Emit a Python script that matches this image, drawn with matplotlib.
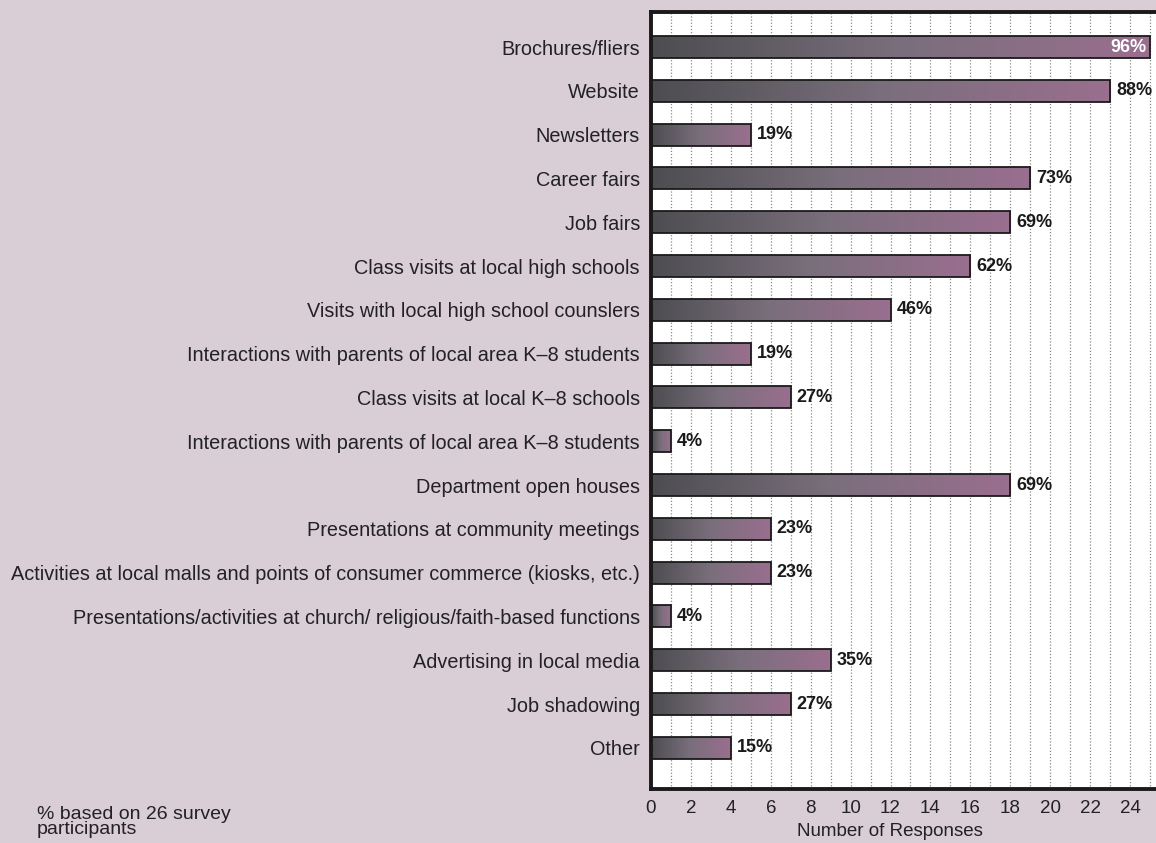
import numpy as np
import matplotlib.pyplot as plt
from matplotlib.colors import LinearSegmentedColormap

plt.rcParams['font.family'] = ['Liberation Sans', 'DejaVu Sans']

categories = [
    "Brochures/fliers",
    "Website",
    "Newsletters",
    "Career fairs",
    "Job fairs",
    "Class visits at local high schools",
    "Visits with local high school counslers",
    "Interactions with parents of local area K\u20138 students",
    "Class visits at local K\u20138 schools",
    "Interactions with parents of local area K\u20138 students",
    "Department open houses",
    "Presentations at community meetings",
    "Activities at local malls and points of consumer commerce (kiosks, etc.)",
    "Presentations/activities at church/ religious/faith-based functions",
    "Advertising in local media",
    "Job shadowing",
    "Other",
]
responses = [25, 23, 5, 19, 18, 16, 12, 5, 7, 1, 18, 6, 6, 1, 9, 7, 4]
percent_labels = ["96%", "88%", "19%", "73%", "69%", "62%", "46%", "19%", "27%",
                  "4%", "69%", "23%", "23%", "4%", "35%", "27%", "15%"]
x_ticks = list(range(0, 26, 2))

bg = "#d9cdd6"
grad = LinearSegmentedColormap.from_list("bar", ["#4d4d51", "#7a6f7c", "#9a6e8f"])

fig = plt.figure(figsize=(11.56, 8.43), dpi=100, facecolor=bg)
ax = fig.add_axes([651 / 1156, 1 - 789 / 843, 26 * 19.96 / 1156, (789 - 12) / 843])
ax.set_facecolor("white")

bar_h = 0.5
ramp = np.linspace(0, 1, 256).reshape(1, -1)
for i, v in enumerate(responses):
    # gradient fill clipped to the bar, outline drawn on top
    ax.imshow(ramp, cmap=grad, aspect="auto", interpolation="bilinear",
              extent=[0, v, i + bar_h / 2, i - bar_h / 2], zorder=2)
    ax.barh(i, v, height=bar_h, facecolor="none", edgecolor="#1a1a1a",
            linewidth=1.3, zorder=3)
    if i == 0:
        ax.text(v - 0.2, i, percent_labels[i], ha="right", va="center",
                color="white", fontsize=13, fontweight="bold", zorder=4)
    else:
        ax.text(v + 0.3, i, percent_labels[i], ha="left", va="center",
                color="#1a1a1a", fontsize=13, fontweight="bold", zorder=4)

ax.set_xlim(0, 26)
ax.set_ylim(len(responses) - 1 + 0.94, -0.8)

ax.set_xticks(range(0, 27))
ax.set_xticklabels([str(t) if t in x_ticks else "" for t in range(0, 27)])
ax.xaxis.grid(True, linestyle=(0, (1.0, 1.5)), color="#8a8a8a", linewidth=0.9, zorder=0)
ax.set_axisbelow(True)
ax.tick_params(axis="x", length=0, labelsize=13.5, colors="#222222", pad=8)

ax.set_yticks(range(len(categories)))
ax.set_yticklabels(categories)
ax.tick_params(axis="y", length=0, labelsize=14.3, colors="#222222", pad=8)

for side in ["left", "bottom", "top"]:
    ax.spines[side].set_linewidth(2.8)
    ax.spines[side].set_color("#1a1a1a")
ax.spines["right"].set_visible(False)

ax.set_xlabel("Number of Responses", fontsize=13.5, color="#222222")
ax.xaxis.set_label_coords(239 / (26 * 19.96), -0.044)

fig.text(37 / 1156, 1 - 822 / 843, "% based on 26 survey\nparticipants",
         fontsize=14, color="#222222", va="center", linespacing=0.9)

fig.savefig("out.png", dpi=100, facecolor=bg)
